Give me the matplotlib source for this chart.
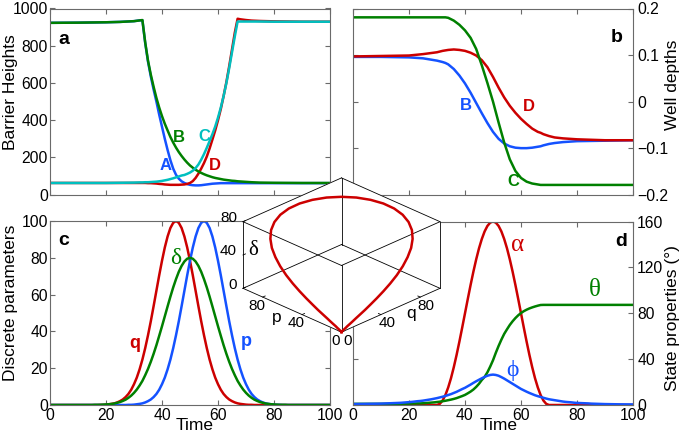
import numpy as np
import matplotlib
matplotlib.use('Agg')
import matplotlib.pyplot as plt
from mpl_toolkits.mplot3d import proj3d
from mpl_toolkits.mplot3d.art3d import Poly3DCollection

plt.rcParams['font.family'] = ['Liberation Sans', 'DejaVu Sans']
plt.rcParams['axes.unicode_minus'] = True

# ---------------- data ----------------
# panel a: barrier heights
time_a = [0, 10, 20, 25, 30, 32, 33, 34, 35, 36, 37, 38, 39, 40, 41, 42, 43, 44, 45, 46,
          47, 48, 49, 50, 51, 52, 53, 54, 55, 56, 57, 58, 59, 60, 61, 62, 63, 64, 65, 66,
          67, 68, 70, 72, 75, 80, 90, 100]
barrier_A = [923, 924, 926, 928, 932, 936, 937, 815, 715, 635, 565, 500, 430, 365, 300, 240,
             185, 140, 107, 86, 72, 63, 57, 53, 51, 50, 50, 51, 53, 55, 57, 59, 60, 61, 62, 62,
             62, 62, 62, 62, 62, 62, 62, 62, 62, 62, 62, 62]
barrier_B = [923, 924, 926, 928, 932, 936, 938, 818, 720, 645, 580, 520, 468, 422, 381, 345,
             310, 280, 253, 229, 208, 189, 172, 157, 145, 134, 125, 117, 110, 104, 99, 94, 90,
             87, 84, 81, 79, 77, 75, 74, 72, 71, 69, 67, 65, 64, 63, 63]
barrier_C = [63, 63, 63, 64, 65, 66, 66, 67, 67, 68, 69, 70, 72, 74, 77, 80, 84, 88, 93, 98,
             103, 106, 112, 119, 129, 143, 162, 188, 218, 252, 288, 325, 366, 414, 468, 530,
             600, 680, 765, 850, 930, 930, 930, 930, 930, 929, 929, 929]
barrier_D = [63, 63, 63, 63, 63, 63, 63, 63, 62, 62, 61, 60, 58, 57, 55, 54, 53, 53, 53, 53,
             54, 55, 58, 63, 73, 90, 113, 140, 170, 205, 248, 296, 345, 400, 460, 530, 605,
             690, 780, 870, 945, 942, 938, 935, 933, 931, 929, 929]

# panel b: well depths
time_b = [0, 10, 20, 25, 30, 32, 33, 34, 36, 38, 40, 42, 44, 46, 48, 50, 52, 54, 56, 58,
          60, 62, 64, 66, 67, 68, 70, 72, 75, 80, 90, 100]
well_B = [0.096, 0.096, 0.095, 0.093, 0.088, 0.085, 0.083, 0.080, 0.070, 0.056, 0.039,
          0.019, -0.003, -0.025, -0.046, -0.065, -0.080, -0.090, -0.096, -0.099, -0.100,
          -0.100, -0.099, -0.097, -0.096, -0.094, -0.091, -0.089, -0.087, -0.085, -0.084, -0.083]
well_C = [0.181, 0.181, 0.181, 0.181, 0.181, 0.181, 0.181, 0.180, 0.174, 0.165, 0.153,
          0.137, 0.113, 0.078, 0.040, 0.000, -0.045, -0.088, -0.124, -0.149, -0.164,
          -0.172, -0.176, -0.178, -0.179, -0.179, -0.179, -0.179, -0.179, -0.179, -0.179, -0.179]
well_D = [0.097, 0.098, 0.099, 0.102, 0.106, 0.109, 0.110, 0.111, 0.112, 0.111, 0.109,
          0.105, 0.099, 0.089, 0.074, 0.053, 0.030, 0.009, -0.009, -0.024, -0.037, -0.048,
          -0.058, -0.065, -0.067, -0.070, -0.074, -0.077, -0.079, -0.081, -0.083, -0.083]

# panels c, d (time samples: coarse in the flat tails, 1 unit in between)
time_cd = [0, 5, 10,
           15, 16, 17, 18, 19, 20, 21, 22, 23, 24, 25, 26, 27, 28, 29, 30, 31, 32, 33, 34,
           35, 36, 37, 38, 39, 40, 41, 42, 43, 44, 45, 46, 47, 48, 49, 50, 51, 52, 53, 54,
           55, 56, 57, 58, 59, 60, 61, 62, 63, 64, 65, 66, 67, 68, 69, 70, 71, 72, 73, 74,
           75, 76, 77, 78, 79, 80, 81, 82, 83, 84, 85,
           90, 95, 100]
param_q = [0, 0, 0,
           0, 0, 0, 0.1, 0.1, 0.2, 0.4, 0.6, 0.9, 1.4, 2.1, 3.0, 4.3, 6.0, 8.3, 11.3,
           14.9, 19.4, 24.7, 30.9, 37.9, 45.5, 53.7, 62.1, 70.5, 78.4, 85.6, 91.6, 96.2, 99.0,
           100, 99.0, 96.2, 91.6, 85.6, 78.4, 70.5, 62.1, 53.7, 45.5, 37.9, 30.9, 24.7, 19.4,
           14.9, 11.3, 8.3, 6.0, 4.3, 3.0, 2.1, 1.4, 0.9, 0.6, 0.4, 0.2, 0.1, 0.1,
           0, 0, 0, 0, 0, 0, 0, 0, 0, 0, 0, 0, 0,
           0, 0, 0]
param_p = [0, 0, 0,
           0, 0, 0, 0, 0, 0, 0, 0, 0, 0, 0, 0, 0,
           0.1, 0.1, 0.2, 0.4, 0.6, 0.9, 1.4, 2.1, 3.0, 4.3, 6.0, 8.3, 11.3,
           14.9, 19.4, 24.7, 30.9, 37.9, 45.5, 53.7, 62.1, 70.5, 78.4, 85.6, 91.6, 96.2, 99.0,
           100, 99.0, 96.2, 91.6, 85.6, 78.4, 70.5, 62.1, 53.7, 45.5, 37.9, 30.9, 24.7, 19.4,
           14.9, 11.3, 8.3, 6.0, 4.3, 3.0, 2.1, 1.4, 0.9, 0.6, 0.4, 0.2, 0.1, 0.1,
           0, 0, 0,
           0, 0, 0]
param_delta = [0, 0, 0,
               0.0, 0.1, 0.1, 0.1, 0.2, 0.3, 0.4, 0.6, 0.8, 1.2, 1.6, 2.2, 2.9, 3.9, 5.1, 6.6,
               8.4, 10.6, 13.1, 16.2, 19.6, 23.5, 27.8, 32.5, 37.6, 42.8, 48.2, 53.6, 58.9,
               63.9, 68.4, 72.4, 75.6, 78.0, 79.5, 80, 79.5, 78.0, 75.6, 72.4, 68.4, 63.9,
               58.9, 53.6, 48.2, 42.8, 37.6, 32.5, 27.8, 23.5, 19.6, 16.2, 13.1, 10.6, 8.4,
               6.6, 5.1, 3.9, 2.9, 2.2, 1.6, 1.2, 0.8, 0.6, 0.4, 0.3, 0.2, 0.1, 0.1, 0.1, 0.0,
               0, 0, 0]
state_alpha = [0, 0, 0,
               0, 0, 0, 0, 0, 0, 0, 0, 0, 0, 0, 0, 0, 0, 0, 0,
               1.0, 3.9, 8.7, 15.3, 23.4, 33.0, 43.7, 55.3, 67.5, 80, 92.5, 104.7, 116.3,
               127.0, 136.6, 144.7, 151.3, 156.1, 159.0, 160, 159.0, 156.1, 151.3, 144.7,
               136.6, 127.0, 116.3, 104.7, 92.5, 80, 67.5, 55.3, 43.7, 33.0, 23.4, 15.3, 8.7,
               3.9, 1.0,
               0, 0, 0, 0, 0, 0, 0, 0, 0, 0, 0, 0, 0, 0, 0, 0,
               0, 0, 0]
state_theta = [1.0, 1.0, 1.0,
               1.1, 1.1, 1.1, 1.2, 1.2, 1.2, 1.3, 1.3, 1.4, 1.4, 1.5, 1.7, 1.9, 2.1, 2.3, 2.6,
               2.9, 3.3, 3.7, 4.2, 4.7, 5.3, 6.0, 6.9, 7.8, 8.8, 10.2, 11.7, 13.5, 15.8, 18.5,
               21.8, 24.5, 28.5, 33.5, 39.0, 45.5, 51.5, 57, 62, 66, 69.8, 73, 75.8, 78.2,
               80.2, 81.8, 83.1, 84.2, 85.1, 85.9, 86.6, 87.2,
               87.3, 87.3, 87.3, 87.3, 87.3, 87.3, 87.3, 87.3, 87.3, 87.3, 87.3, 87.3, 87.3,
               87.3, 87.3, 87.3, 87.3, 87.3,
               87.3, 87.3, 87.3]
state_phi = [0.8, 1.0, 1.2,
             1.7, 1.8, 1.9, 2.1, 2.3, 2.5, 2.7, 3.0, 3.3, 3.5, 3.8, 4.2, 4.6, 5.0, 5.5, 6.0,
             6.6, 7.2, 7.9, 8.7, 9.5, 10.5, 11.5, 12.7, 13.9, 15.0, 16.4, 17.8, 19.3, 20.7,
             22.0, 23.3, 24.5, 25.5, 26.2, 26.5, 26.2, 25.5, 24.3, 23.0, 21.5, 20.0, 18.5,
             17.0, 15.5, 14.0, 12.8, 11.6, 10.5, 9.5, 8.5, 7.7, 7.0, 6.3, 5.6, 5.0, 4.6, 4.2,
             3.8, 3.4, 3.0, 2.7, 2.5, 2.3, 2.0, 1.8, 1.7, 1.6, 1.5, 1.4, 1.2,
             0.8, 0.6, 0.5]

for series in (param_q, param_p, param_delta, state_alpha, state_theta, state_phi):
    assert len(series) == len(time_cd), len(series)
for series in (barrier_A, barrier_B, barrier_C, barrier_D):
    assert len(series) == len(time_a), len(series)
for series in (well_B, well_C, well_D):
    assert len(series) == len(time_b), len(series)

x_ticks = [0, 20, 40, 60, 80, 100]
yticks_a = [0, 200, 400, 600, 800, 1000]
yticks_b = [-0.2, -0.1, 0, 0.1, 0.2]
yticklabels_b = ['\u22120.2', '\u22120.1', '0', '0.1', '0.2']
yticks_c = [0, 20, 40, 60, 80, 100]
yticks_d = [0, 40, 80, 120, 160]
inset_ticks_pq = [0, 40, 80]
inset_ticks_delta = [0, 40, 80]

# ---------------- style ----------------
RED = '#CC0000'
BLUE = '#1452FF'
GREEN = '#008000'
CYAN = '#00BFBF'
SPINE = '#6a6a6a'
LW = 1.8
TICK_FS = 11.3
LABEL_FS = 12.5
SERIF = ['Liberation Serif', 'DejaVu Serif']

W, H = 685, 438
fig = plt.figure(figsize=(W / 100, H / 100), dpi=100)


def frac(left, top, right, bottom):
    return [left / W, 1 - bottom / H, (right - left) / W, (bottom - top) / H]


ax_a = fig.add_axes(frac(50, 8.5, 330, 194.7))
ax_b = fig.add_axes(frac(353, 8.5, 633, 194.7))
ax_c = fig.add_axes(frac(50, 221, 330, 405))
ax_d = fig.add_axes(frac(353, 221.5, 633, 405))


def style(ax, right_labels=False, bottom_labels=True):
    ax.tick_params(direction='in', length=3.5, width=0.8, color=SPINE, top=True,
                   right=True, left=True, bottom=True, labelsize=TICK_FS,
                   labelbottom=bottom_labels, labelleft=not right_labels,
                   labelright=right_labels)
    ax.tick_params(axis='x', pad=2.5)
    ax.tick_params(axis='y', pad=3 if right_labels else 1.5)
    for s in ax.spines.values():
        s.set_color(SPINE)
        s.set_linewidth(0.8)
    ax.set_xlim(0, 100)
    ax.set_xticks(x_ticks)


# panel a
ax_a.plot(time_a, barrier_A, color=BLUE, lw=LW)
ax_a.plot(time_a, barrier_D, color=RED, lw=LW)
ax_a.plot(time_a, barrier_B, color=GREEN, lw=LW)
ax_a.plot(time_a, barrier_C, color=CYAN, lw=LW)
style(ax_a, bottom_labels=False)
ax_a.set_ylim(0, 1000)
ax_a.set_yticks(yticks_a)
ax_a.set_ylabel('Barrier Heights', fontsize=LABEL_FS)
ax_a.yaxis.set_label_coords(-0.1136, 0.552)
ax_a.text(5, 834, 'a', fontsize=14, fontweight='bold', ha='center', va='center')
ax_a.text(41.4, 157, 'A', color=BLUE, fontsize=12, fontweight='bold', ha='center', va='center')
ax_a.text(46.2, 309, 'B', color=GREEN, fontsize=12, fontweight='bold', ha='center', va='center')
ax_a.text(55.1, 312, 'C', color=CYAN, fontsize=12, fontweight='bold', ha='center', va='center')
ax_a.text(58.9, 157, 'D', color=RED, fontsize=12, fontweight='bold', ha='center', va='center')

# panel b
ax_b.plot(time_b, well_B, color=BLUE, lw=LW)
ax_b.plot(time_b, well_D, color=RED, lw=LW)
ax_b.plot(time_b, well_C, color=GREEN, lw=LW)
style(ax_b, right_labels=True, bottom_labels=False)
ax_b.set_ylim(-0.2, 0.2)
ax_b.set_yticks(yticks_b)
ax_b.set_yticklabels(yticklabels_b)
ax_b.yaxis.set_label_position('right')
ax_b.set_ylabel('Well depths', fontsize=LABEL_FS)
ax_b.yaxis.set_label_coords(1.113, 0.59)
ax_b.text(94.3, 0.138, 'b', fontsize=14, fontweight='bold', ha='center', va='center')
ax_b.text(40.4, -0.009, 'B', color=BLUE, fontsize=12, fontweight='bold', ha='center', va='center')
ax_b.text(62.9, -0.010, 'D', color=RED, fontsize=12, fontweight='bold', ha='center', va='center')
ax_b.text(57.1, -0.172, 'C', color=GREEN, fontsize=12, fontweight='bold', ha='center', va='center')

# panel c
ax_c.plot(time_cd, param_q, color=RED, lw=LW)
ax_c.plot(time_cd, param_p, color=BLUE, lw=LW)
ax_c.plot(time_cd, param_delta, color=GREEN, lw=LW)
style(ax_c)
ax_c.set_ylim(0, 100)
ax_c.set_yticks(yticks_c)
ax_c.set_ylabel('Discrete parameters', fontsize=LABEL_FS)
ax_c.yaxis.set_label_coords(-0.1136, 0.554)
ax_c.set_xlabel('Time', fontsize=LABEL_FS)
ax_c.xaxis.set_label_coords(0.516, -0.072)
ax_c.text(5, 89.5, 'c', fontsize=14, fontweight='bold', ha='center', va='center')
ax_c.text(30.4, 33.5, 'q', color=RED, fontsize=13, fontweight='bold', ha='center', va='center')
ax_c.text(70, 34.4, 'p', color=BLUE, fontsize=13, fontweight='bold', ha='center', va='center')
ax_c.text(45, 79.6, '\u03b4', color=GREEN, fontsize=17, family=SERIF, ha='center', va='center')

# panel d
ax_d.plot(time_cd, state_alpha, color=RED, lw=LW)
ax_d.plot(time_cd, state_theta, color=GREEN, lw=LW)
ax_d.plot(time_cd, state_phi, color=BLUE, lw=LW)
style(ax_d, right_labels=True)
ax_d.set_ylim(0, 160)
ax_d.set_yticks(yticks_d)
ax_d.yaxis.set_label_position('right')
ax_d.set_ylabel('State properties (\u00b0)', fontsize=LABEL_FS)
ax_d.yaxis.set_label_coords(1.113, 0.475)
ax_d.set_xlabel('Time', fontsize=LABEL_FS)
ax_d.xaxis.set_label_coords(0.521, -0.072)
ax_d.text(95.7, 142.5, 'd', fontsize=14, fontweight='bold', ha='center', va='center')
ax_d.text(58.9, 139.6, '\u03b1', color=RED, fontsize=18, family=SERIF, ha='center', va='center')
ax_d.text(86.5, 100.4, '\u03b8', color=GREEN, fontsize=18, family=SERIF, ha='center', va='center')
ax_d.text(57.1, 30.5, '\u03d5', color=BLUE, fontsize=17, family=SERIF, ha='center', va='center')

# ---------------- 3D inset ----------------
ax3 = fig.add_axes([0.3, 0.2, 0.4, 0.4 * W / H], projection='3d', computed_zorder=False)
ax3.set_proj_type('ortho')
ax3.view_init(elev=26.4, azim=-135)
ax3.set_box_aspect((1, 1, 0.534))
QMAX, PMAX, DMAX = 100, 100, 80
ax3.set_xlim(0, QMAX)
ax3.set_ylim(0, PMAX)
ax3.set_zlim(0, DMAX)
ax3.set_axis_off()
ax3.patch.set_visible(False)

panes = [
    [(0, 0, 0), (QMAX, 0, 0), (QMAX, PMAX, 0), (0, PMAX, 0)],
    [(QMAX, 0, 0), (QMAX, PMAX, 0), (QMAX, PMAX, DMAX), (QMAX, 0, DMAX)],
    [(0, PMAX, 0), (QMAX, PMAX, 0), (QMAX, PMAX, DMAX), (0, PMAX, DMAX)],
]
pc = Poly3DCollection(panes, facecolor='white', edgecolor='white', linewidths=0.5)
pc.set_zorder(1)
ax3.add_collection3d(pc)

corners = [(x, y, z) for x in (0, QMAX) for y in (0, PMAX) for z in (0, DMAX)]
for i, c1 in enumerate(corners):
    for c2 in corners[i + 1:]:
        if sum(a != b for a, b in zip(c1, c2)) == 1:
            ax3.plot([c1[0], c2[0]], [c1[1], c2[1]], [c1[2], c2[2]], color='black',
                     lw=0.6, zorder=2)

# tick marks
for v in inset_ticks_pq:
    ax3.plot([0, 2.5], [v, v], [0, 0], color='black', lw=0.6, zorder=2)
    ax3.plot([v, v], [0, 2.5], [0, 0], color='black', lw=0.6, zorder=2)
for v in inset_ticks_delta:
    ax3.plot([0, 2.5], [PMAX, PMAX], [v, v], color='black', lw=0.6, zorder=2)

ax3.plot(param_q, param_p, param_delta, color=RED, lw=1.8, zorder=3)

IFS = 11
for v in inset_ticks_pq:
    ax3.text(-6, v, -7, str(v), fontsize=IFS, ha='center', va='center', zorder=4)
    ax3.text(v, -6, -7, str(v), fontsize=IFS, ha='center', va='center', zorder=4)
for v in inset_ticks_delta:
    ax3.text(-3, PMAX + 3, v + 4.5, str(v), fontsize=IFS, ha='right', va='center', zorder=4)
ax3.text(-4.3, 61.3, -12, 'p', fontsize=12.5, ha='center', va='center', zorder=4)
ax3.text(68.4, -2.4, -12, 'q', fontsize=12.5, ha='center', va='center', zorder=4)
ax3.text(10, PMAX, 40, '\u03b4', fontsize=15, family=SERIF, ha='center', va='center', zorder=4)

# fit inset box to target hexagon (pixel layout)
fig.canvas.draw()


def hex_extent():
    M = ax3.get_proj()
    cs = np.array(corners, dtype=float)
    x2, y2, _ = proj3d.proj_transform(cs[:, 0], cs[:, 1], cs[:, 2], M)
    pts = ax3.transData.transform(np.column_stack([x2, y2]))
    return pts[:, 0].min(), pts[:, 0].max(), pts[:, 1].min(), pts[:, 1].max()


x0, x1, y0, y1 = hex_extent()
t_x0, t_x1 = 243.0, 440.0
t_ytop, t_ybot = H - 178.0, H - 332.0
scale = (t_x1 - t_x0) / (x1 - x0)
pos = ax3.get_position()
ax_w, ax_h = pos.width * W, pos.height * H
ax_cx, ax_cy = (pos.x0 + pos.width / 2) * W, (pos.y0 + pos.height / 2) * H
hx, hy = (x0 + x1) / 2, (y0 + y1) / 2
tx, ty = (t_x0 + t_x1) / 2, (t_ytop + t_ybot) / 2
ncx = tx - scale * (hx - ax_cx)
ncy = ty - scale * (hy - ax_cy)
nw, nh = ax_w * scale, ax_h * scale
ax3.set_position([(ncx - nw / 2) / W, (ncy - nh / 2) / H, nw / W, nh / H])

fig.savefig('out.png', dpi=100)
